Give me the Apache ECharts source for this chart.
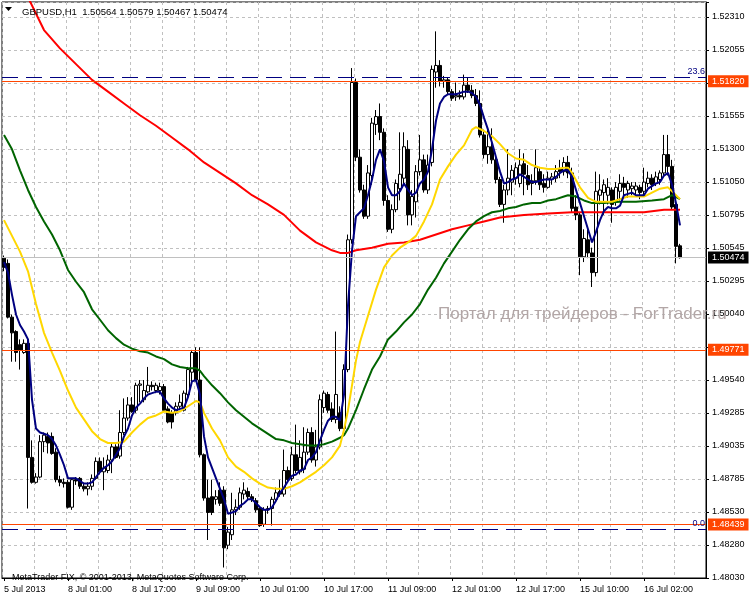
<!DOCTYPE html>
<html><head><meta charset="utf-8">
<script src="https://cdn.jsdelivr.net/npm/echarts@6/dist/echarts.min.js"></script>
<style>html,body{margin:0;padding:0;background:#fff}#c{width:750px;height:600px}</style>
</head><body><div id="c"></div>
<script>
const SYMBOL = 'GBPUSD,H1';
const LAST_OHLC = ['1.50564', '1.50579', '1.50467', '1.50474'];
// trading sessions: day, first hour, last hour
const SESSIONS = [['5 Jul', 9, 23], ['8 Jul', 0, 23], ['9 Jul', 0, 23], ['10 Jul', 0, 23], ['11 Jul', 0, 23], ['12 Jul', 0, 22], ['15 Jul', 0, 23], ['16 Jul', 0, 17]];
const FIRST_LABEL = '5 Jul 2013';

const OPEN = [
1.5047,1.5043,1.5002,1.4991,1.4981,1.4975,1.4982,1.4895,1.4876,1.4880,
1.4907,1.4911,1.4911,1.4899,1.4878,1.4876,1.4876,1.4857,1.4878,1.4879,
1.4873,1.4871,1.4873,1.4879,1.4892,1.4884,1.4885,1.4893,1.4903,1.4896,
1.4914,1.4925,1.4935,1.4931,1.4950,1.4939,1.4945,1.4950,1.4946,1.4946,
1.4949,1.4932,1.4929,1.4929,1.4934,1.4931,1.4943,1.4960,1.4975,1.4954,
1.4897,1.4864,1.4865,1.4863,1.4870,1.4870,1.4828,1.4836,1.4855,1.4857,
1.4867,1.4869,1.4865,1.4862,1.4856,1.4844,1.4855,1.4856,1.4863,1.4869,
1.4867,1.4885,1.4879,1.4897,1.4884,1.4886,1.4899,1.4914,1.4893,1.4903,
1.4933,1.4943,1.4932,1.4924,1.4929,1.4917,1.4962,1.5061,1.5181,1.5124,
1.5099,1.5079,1.5110,1.5149,1.5155,1.5143,1.5091,1.5069,1.5084,1.5100,
1.5108,1.5130,1.5080,1.5090,1.5113,1.5122,1.5099,1.5120,1.5189,1.5194,
1.5182,1.5183,1.5174,1.5170,1.5171,1.5170,1.5179,1.5175,1.5171,1.5165,
1.5141,1.5126,1.5132,1.5122,1.5107,1.5088,1.5099,1.5105,1.5108,1.5104,
1.5119,1.5110,1.5104,1.5106,1.5113,1.5104,1.5101,1.5107,1.5108,1.5115,
1.5113,1.5120,1.5112,1.5086,1.5080,1.5048,1.5061,1.5051,1.5036,1.5095,
1.5097,1.5095,1.5099,1.5090,1.5098,1.5104,1.5099,1.5100,1.5099,1.5101,
1.5098,1.5104,1.5108,1.5104,1.5107,1.5112,1.5126,1.5117,1.5088,1.50564];
const CLOSE = [
1.5040,1.5002,1.4990,1.4975,1.4977,1.4982,1.4895,1.4876,1.4880,1.4907,
1.4912,1.4906,1.4898,1.4878,1.4876,1.4875,1.4857,1.4878,1.4877,1.4873,
1.4871,1.4873,1.4879,1.4892,1.4884,1.4887,1.4893,1.4903,1.4895,1.4914,
1.4925,1.4935,1.4930,1.4950,1.4951,1.4946,1.4950,1.4949,1.4950,1.4949,
1.4931,1.4922,1.4922,1.4934,1.4937,1.4944,1.4962,1.4975,1.4954,1.4897,
1.4864,1.4853,1.4853,1.4865,1.4860,1.4826,1.4838,1.4855,1.4857,1.4868,
1.4870,1.4865,1.4863,1.4855,1.4843,1.4855,1.4856,1.4863,1.4868,1.4867,
1.4885,1.4878,1.4897,1.4885,1.4895,1.4899,1.4914,1.4893,1.4903,1.4939,
1.4944,1.4931,1.4924,1.4943,1.4917,1.4962,1.5061,1.5181,1.5124,1.5099,
1.5079,1.5112,1.5150,1.5155,1.5143,1.5091,1.5069,1.5084,1.5104,1.5111,
1.5132,1.5080,1.5094,1.5113,1.5122,1.5099,1.5118,1.5191,1.5194,1.5182,
1.5183,1.5174,1.5169,1.5171,1.5170,1.5179,1.5175,1.5171,1.5165,1.5141,
1.5126,1.5132,1.5122,1.5107,1.5088,1.5099,1.5108,1.5114,1.5116,1.5118,
1.5111,1.5103,1.5106,1.5116,1.5103,1.5101,1.5108,1.5109,1.5113,1.5113,
1.5120,1.5112,1.5085,1.5080,1.5048,1.5062,1.5051,1.5036,1.5098,1.5099,
1.5103,1.5101,1.5088,1.5101,1.5104,1.5101,1.5104,1.5102,1.5102,1.5097,
1.5105,1.5108,1.5103,1.5109,1.5112,1.5126,1.5117,1.5086,1.5056,1.50474];
const LOW = [
1.5037,1.5001,1.4968,1.4968,1.4962,1.4974,1.4856,1.4875,1.4875,1.4879,
1.4899,1.4898,1.4897,1.4876,1.4873,1.4872,1.4856,1.4855,1.4874,1.4871,
1.4869,1.4866,1.4870,1.4878,1.4882,1.4870,1.4883,1.4883,1.4894,1.4894,
1.4912,1.4923,1.4929,1.4929,1.4937,1.4937,1.4944,1.4946,1.4944,1.4943,
1.4930,1.4921,1.4917,1.4927,1.4931,1.4930,1.4941,1.4952,1.4953,1.4895,
1.4862,1.4832,1.4851,1.4859,1.4858,1.4811,1.4825,1.4832,1.4851,1.4855,
1.4863,1.4862,1.4861,1.4853,1.4842,1.4842,1.4852,1.4843,1.4861,1.4865,
1.4865,1.4876,1.4877,1.4883,1.4882,1.4883,1.4897,1.4891,1.4888,1.4901,
1.4929,1.4929,1.4922,1.4921,1.4915,1.4913,1.4960,1.5058,1.5121,1.5097,
1.5077,1.5077,1.5103,1.5141,1.5137,1.5087,1.5067,1.5066,1.5082,1.5091,
1.5103,1.5072,1.5072,1.5078,1.5110,1.5097,1.5096,1.5117,1.5177,1.5178,
1.5177,1.5172,1.5167,1.5167,1.5168,1.5168,1.5173,1.5169,1.5163,1.5139,
1.5123,1.5119,1.5119,1.5104,1.5086,1.5074,1.5095,1.5095,1.5103,1.5101,
1.5095,1.5099,1.5095,1.5103,1.5099,1.5097,1.5100,1.5103,1.5105,1.5108,
1.5110,1.5108,1.5082,1.5076,1.5034,1.5044,1.5047,1.5025,1.5033,1.5088,
1.5080,1.5088,1.5074,1.5087,1.5091,1.5095,1.5093,1.5095,1.5095,1.5092,
1.5095,1.5101,1.5099,1.5102,1.5103,1.5109,1.5110,1.5084,1.5043,1.50467];
const HIGH = [
1.5049,1.5046,1.5004,1.4992,1.4985,1.4985,1.4985,1.4908,1.4883,1.4912,
1.4914,1.4914,1.4914,1.4902,1.4881,1.4879,1.4878,1.4879,1.4880,1.4880,
1.4875,1.4876,1.4882,1.4895,1.4895,1.4895,1.4897,1.4906,1.4905,1.4931,
1.4940,1.4941,1.4941,1.4952,1.4954,1.4954,1.4964,1.4953,1.4952,1.4952,
1.4951,1.4934,1.4931,1.4937,1.4943,1.4946,1.4964,1.4977,1.4979,1.4979,
1.4898,1.4878,1.4878,1.4870,1.4876,1.4873,1.4842,1.4868,1.4863,1.4872,
1.4876,1.4872,1.4867,1.4864,1.4858,1.4857,1.4858,1.4865,1.4872,1.4878,
1.4901,1.4888,1.4903,1.4920,1.4908,1.4918,1.4917,1.4918,1.4916,1.4943,
1.4946,1.4945,1.4937,1.4991,1.4934,1.4966,1.5065,1.5192,1.5184,1.5130,
1.5103,1.5118,1.5154,1.5160,1.5165,1.5146,1.5095,1.5088,1.5107,1.5143,
1.5143,1.5137,1.5099,1.5118,1.5141,1.5126,1.5126,1.5194,1.5220,1.5198,
1.5186,1.5185,1.5176,1.5181,1.5175,1.5187,1.5185,1.5179,1.5176,1.5175,
1.5145,1.5145,1.5146,1.5126,1.5109,1.5103,1.5130,1.5118,1.5120,1.5130,
1.5127,1.5118,1.5111,1.5130,1.5116,1.5111,1.5113,1.5112,1.5118,1.5122,
1.5124,1.5125,1.5116,1.5095,1.5082,1.5069,1.5069,1.5055,1.5113,1.5111,
1.5107,1.5108,1.5101,1.5105,1.5111,1.5109,1.5106,1.5105,1.5105,1.5103,
1.5116,1.5113,1.5111,1.5113,1.5114,1.5141,1.5141,1.5122,1.5091,1.50579];

// fast moving average (navy), one value per bar
const MA_NAVY = [
1.5044,1.5036,1.5019,1.5004,1.4996,1.4991,1.4985,1.4939,1.4917,1.4914,
1.4913,1.4912,1.4909,1.4904,1.4897,1.4889,1.4879,1.4879,1.4879,1.4877,
1.4875,1.4875,1.4876,1.4880,1.4884,1.4887,1.4889,1.4892,1.4897,1.4902,
1.4911,1.4917,1.4927,1.4933,1.4936,1.4940,1.4943,1.4944,1.4945,1.4945,
1.4940,1.4936,1.4933,1.4931,1.4932,1.4933,1.4941,1.4953,1.4954,1.4943,
1.4911,1.4895,1.4887,1.4879,1.4871,1.4863,1.4852,1.4853,1.4854,1.4858,
1.4860,1.4863,1.4863,1.4860,1.4857,1.4855,1.4855,1.4857,1.4862,1.4868,
1.4872,1.4877,1.4881,1.4882,1.4885,1.4886,1.4893,1.4895,1.4899,1.4908,
1.4916,1.4923,1.4926,1.4926,1.4923,1.4943,1.5011,1.5053,1.5079,1.5082,
1.5085,1.5095,1.5107,1.5122,1.5130,1.5121,1.5101,1.5095,1.5095,1.5098,
1.5104,1.5099,1.5095,1.5097,1.5104,1.5107,1.5113,1.5130,1.5152,1.5165,
1.5170,1.5172,1.5172,1.5172,1.5173,1.5174,1.5174,1.5173,1.5170,1.5164,
1.5154,1.5145,1.5135,1.5124,1.5113,1.5104,1.5105,1.5107,1.5108,1.5111,
1.5109,1.5107,1.5105,1.5105,1.5106,1.5107,1.5107,1.5107,1.5109,1.5112,
1.5114,1.5114,1.5109,1.5099,1.5089,1.5079,1.5069,1.5059,1.5067,1.5076,
1.5083,1.5086,1.5085,1.5085,1.5087,1.5095,1.5096,1.5097,1.5095,1.5095,
1.5095,1.5100,1.5102,1.5104,1.5105,1.5110,1.5112,1.5103,1.5089,1.5072];

// slower averages read at [bar index, price]
const MA_GOLD = [[0,1.5076],[2,1.5064],[4,1.5052],[6,1.5037],[8,1.5012],[10,1.4990],[12,1.4975],[14,1.4961],[16,1.4946],[18,1.4933],[20,1.4924],[22,1.4915],[24,1.4909],[26,1.4906],[28,1.4906],[30,1.4907],[32,1.4914],[34,1.4920],[36,1.4925],[38,1.4927],[40,1.4930],[42,1.4929],[44,1.4930],[46,1.4934],[48,1.4938],[49,1.4937],[50,1.4929],[52,1.4917],[54,1.4908],[56,1.4895],[58,1.4888],[60,1.4884],[62,1.4879],[64,1.4875],[66,1.4872],[68,1.4871],[70,1.4871],[72,1.4873],[74,1.4876],[76,1.4880],[78,1.4884],[80,1.4889],[82,1.4895],[84,1.4904],[85,1.4916],[86,1.4931],[87,1.4950],[88,1.4969],[89,1.4983],[91,1.5003],[93,1.5023],[95,1.5040],[97,1.5049],[99,1.5055],[101,1.5059],[103,1.5064],[105,1.5075],[107,1.5088],[109,1.5107],[111,1.5117],[113,1.5126],[115,1.5133],[117,1.5145],[118,1.5147],[120,1.5144],[122,1.5140],[124,1.5134],[126,1.5127],[128,1.5123],[130,1.5122],[132,1.5118],[134,1.5116],[136,1.5115],[138,1.5115],[140,1.5116],[141,1.5116],[142,1.5112],[144,1.5101],[146,1.5093],[148,1.5090],[150,1.5090],[152,1.5090],[154,1.5092],[156,1.5094],[158,1.5094],[160,1.5094],[162,1.5097],[164,1.5100],[166,1.5101],[168,1.5095],[169,1.5092]];
const MA_GREEN = [[0,1.5141],[2,1.5130],[4,1.5114],[6,1.5099],[8,1.5086],[10,1.5075],[12,1.5065],[14,1.5053],[16,1.5038],[18,1.5029],[20,1.5021],[22,1.5008],[24,1.5000],[26,1.4992],[28,1.4986],[30,1.4981],[32,1.4978],[34,1.4976],[36,1.4975],[38,1.4972],[40,1.4970],[42,1.4966],[44,1.4964],[46,1.4963],[48,1.4963],[49,1.4961],[50,1.4957],[52,1.4950],[54,1.4944],[56,1.4937],[58,1.4931],[60,1.4926],[62,1.4921],[64,1.4917],[66,1.4913],[68,1.4909],[70,1.4908],[72,1.4906],[74,1.4905],[76,1.4904],[78,1.4904],[80,1.4905],[82,1.4907],[84,1.4910],[85,1.4912],[86,1.4917],[88,1.4931],[90,1.4947],[92,1.4962],[94,1.4972],[96,1.4985],[98,1.4991],[100,1.4998],[102,1.5004],[104,1.5012],[106,1.5023],[108,1.5032],[110,1.5043],[112,1.5052],[114,1.5061],[116,1.5069],[118,1.5075],[120,1.5079],[122,1.5082],[124,1.5083],[126,1.5085],[128,1.5086],[130,1.5088],[132,1.5089],[134,1.5089],[136,1.5091],[138,1.5092],[140,1.5094],[141,1.5095],[143,1.5094],[145,1.5091],[147,1.5089],[150,1.5089],[154,1.5090],[158,1.5090],[162,1.5091],[165,1.5092],[167,1.5095],[169,1.5092]];
const MA_RED = [[0,1.5282],[6,1.5246],[10,1.5221],[14,1.5207],[18,1.5195],[22,1.5183],[26,1.5174],[30,1.5165],[34,1.5156],[38,1.5148],[42,1.5139],[46,1.5130],[50,1.5120],[54,1.5112],[58,1.5104],[62,1.5095],[66,1.5088],[70,1.5080],[74,1.5068],[78,1.5059],[82,1.5053],[84,1.5051],[86,1.5051],[88,1.5053],[92,1.5055],[96,1.5058],[100,1.5059],[104,1.5061],[108,1.5065],[112,1.5069],[116,1.5072],[120,1.5075],[124,1.5078],[130,1.5080],[136,1.5081],[142,1.5082],[148,1.5082],[154,1.5082],[160,1.5082],[165,1.5084],[169,1.5084]];

const Y_MIN = 1.48030, Y_MAX = 1.52424, Y_STEP = 0.002517517;
const Y_TICK_LABELS = ['1.48030','1.48280','1.48530','1.48785','1.49035','1.49285','1.49540','','1.50040','1.50295','1.50545','1.50795','1.51050','1.51300','1.51555','','1.52055','1.52310'];
const LEVELS = [1.51820, 1.49771, 1.48439];
const BID = 1.50474;
const FIB_LEVELS = [1.5185, 1.4840];
const FIB_LABELS = ['23.6', '0.0'];
const COPYRIGHT = 'MetaTrader FIX, © 2001-2013, MetaQuotes Software Corp.';
const WATERMARK = 'Портал для трейдеров - ForTrader.ru';

const FONT = 'Liberation Sans';
const categories = [];
SESSIONS.forEach(([day, h0, h1]) => {
  for (let h = h0; h <= h1; h++) categories.push(day + ' ' + String(h).padStart(2, '0') + ':00');
});
const candles = OPEN.map((o, i) => [o, CLOSE[i], LOW[i], HIGH[i]]);

const levelLabel = (bg) => ({
  show: true, position: 'end', distance: 2, color: '#fff', backgroundColor: bg,
  padding: [2, 4, 1, 4], fontSize: 9, fontFamily: FONT
});
const markData = [];
FIB_LEVELS.forEach((v, k) => markData.push({ yAxis: v, lineStyle: { color: '#000080', width: 1, type: [16, 8] }, label: { show: true, position: 'insideEndTop', distance: 1, formatter: FIB_LABELS[k], color: '#000080', fontSize: 9, fontFamily: FONT } }));
markData.push({ yAxis: BID, lineStyle: { color: '#c0c0c0', width: 1, type: 'solid' }, label: Object.assign(levelLabel('#000'), { formatter: BID.toFixed(5) }) });
LEVELS.forEach(v => markData.push({ yAxis: v, lineStyle: { color: '#ff4500', width: 1, type: 'solid' }, label: Object.assign(levelLabel('#ff4500'), { formatter: v.toFixed(5) }) }));

const chart = echarts.init(document.getElementById('c'), null, { renderer: 'canvas' });
chart.setOption({
  animation: false,
  backgroundColor: '#fff',
  title: [
    { text: SYMBOL + '  ' + LAST_OHLC.join(' '), left: 17, top: 2, textStyle: { fontSize: 9.5, fontWeight: 'normal', color: '#000', fontFamily: FONT } },
    { text: COPYRIGHT, left: 7, top: 568, textStyle: { fontSize: 9, fontWeight: 'normal', color: '#000', fontFamily: FONT } },
    { text: WATERMARK, left: 433, top: 301, textStyle: { fontSize: 17, fontWeight: 'normal', color: '#b2a6a6', fontFamily: FONT } }
  ],
  graphic: [{ type: 'polygon', shape: { points: [[5, 7], [12, 7], [8.5, 11]] }, style: { fill: '#000' } }],
  grid: { left: 2, right: 44, top: 2, bottom: 22, show: true, borderColor: '#000', borderWidth: 1, backgroundColor: '#fff' },
  xAxis: {
    type: 'category', data: categories, boundaryGap: true,
    axisLine: { show: true, lineStyle: { color: '#000', width: 1 } },
    axisTick: { show: true, interval: 15, alignWithLabel: true, length: 3, lineStyle: { color: '#000' } },
    axisLabel: { interval: 15, align: 'left', margin: 7, fontSize: 9, color: '#000', fontFamily: FONT,
      formatter: (v, i) => (i === 0 ? FIRST_LABEL : v) },
    splitLine: { show: true, interval: 7, lineStyle: { color: '#c0c0c0', type: [3, 3], width: 1 } }
  },
  yAxis: {
    type: 'value', position: 'right', min: Y_MIN, max: Y_MAX, interval: Y_STEP, scale: true,
    axisLine: { show: true, lineStyle: { color: '#000', width: 1 } },
    axisTick: { show: true, length: 3, lineStyle: { color: '#000' } },
    axisLabel: { margin: 6, fontSize: 9, color: '#000', fontFamily: FONT,
      formatter: (v) => {
        const k = Math.round((v - Y_MIN) / Y_STEP);
        if (Math.abs(Y_MIN + k * Y_STEP - v) > Y_STEP * 0.02) return '';
        return Y_TICK_LABELS[k] || '';
      } },
    splitLine: { show: true, lineStyle: { color: '#c0c0c0', type: [3, 3], width: 1 } }
  },
  series: [
    { type: 'candlestick', data: candles, barWidth: 3, z: 2,
      itemStyle: { color: '#fff', color0: '#000', borderColor: '#000', borderColor0: '#000', borderWidth: 1 } },
    { type: 'line', data: MA_RED, showSymbol: false, symbol: 'none', z: 3, lineStyle: { color: '#ff0000', width: 2 },
      markLine: { silent: true, precision: 5, symbol: ['none', 'none'], animation: false, data: markData } },
    { type: 'line', data: MA_GREEN, showSymbol: false, symbol: 'none', z: 3, lineStyle: { color: '#006400', width: 2 } },
    { type: 'line', data: MA_GOLD, showSymbol: false, symbol: 'none', z: 3, lineStyle: { color: '#ffd700', width: 2 } },
    { type: 'line', data: MA_NAVY, showSymbol: false, symbol: 'none', z: 4, lineStyle: { color: '#000080', width: 2 } }
  ]
});
</script></body></html>
